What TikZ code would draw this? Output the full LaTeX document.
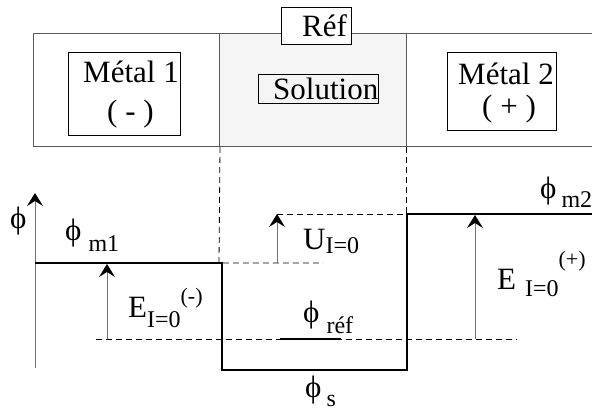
\documentclass[tikz,border=0pt]{standalone}
\usepackage{fontspec}
\setmainfont{Liberation Serif}
\usetikzlibrary{arrows.meta}

\newcommand{\mainsz}{\fontsize{31}{33}\selectfont}
\newcommand{\subsz}{\fontsize{24}{26}\selectfont}
\newcommand{\supsz}{\fontsize{22}{24}\selectfont}

\begin{document}
\begin{tikzpicture}[
            x=1pt, y=-1pt,
            outer_style/.style={rectangle, draw=black!65, line width=1pt, anchor=north west, inner sep=0pt, minimum height=113pt},
            inner_style/.style={rectangle, draw, line width=0.8pt, anchor=north west, inner sep=0pt},
            txt/.style={anchor=base west, inner sep=0pt, font=\mainsz},
            level/.style={line width=2.5pt},
            guide/.style={dash pattern=on 6pt off 4pt, line width=0.8pt},
            pot/.style={draw=black!55, line width=1pt, -{Stealth[length=13pt, width=16pt, inset=5pt, color=black]}}
        ]
        \useasboundingbox (0,0) rectangle (592,414);

        % Haut : les trois compartiments
        \node (metal1) [outer_style, minimum width=186pt] at (33,33) {};
        \node (solution) [outer_style, minimum width=187pt, fill=black!4] at (219,33) {};
        \node (metal2) [outer_style, minimum width=200pt] at (406,33) {};
        \node (ref) [inner_style, fill=white, minimum width=70pt, minimum height=37pt] at (281,7) {};

        \node (m1box) [inner_style, minimum width=112pt, minimum height=83pt] at (68,52) {};
        \node (solbox) [inner_style, minimum width=120pt, minimum height=29pt] at (258,74) {};
        \node (m2box) [inner_style, minimum width=109pt, minimum height=78pt] at (447,52) {};

        \node (m1name) [txt] at (83,83) {Métal 1};
        \node (m1sign) [txt] at (107,122) {( - )};
        \node (solname) [txt] at (273,100) {Solution};
        \node (refname) [txt] at (302,37) {Réf};
        \node (m2name) [txt] at (458,85) {Métal 2};
        \node (m2sign) [txt] at (482,117) {( + )};

        % Bas : niveaux de potentiel
        \coordinate (axisbot) at (35,368);
        \coordinate (axistop) at (35,193);
        \coordinate (m1left) at (35,263);
        \coordinate (m1right) at (222,263);
        \coordinate (sleft) at (222,370);
        \coordinate (sright) at (407,370);
        \coordinate (m2left) at (407,214);
        \coordinate (m2right) at (592,214);
        \coordinate (refleft) at (96,339);
        \coordinate (refright) at (517,339);
        \coordinate (refa) at (280,339);
        \coordinate (refb) at (341,339);

        \draw [pot] (axisbot) -- (axistop);
        \draw [level] (m1left) -- (m1right) -- (sleft) -- (sright) -- (m2left) -- (m2right);
        \draw [level] (refa) -- (refb);

        \draw [guide] (metal1.south east) -- (219,263) -- (323,263);
        \draw [guide] (metal2.south west) -- (406,214) -- (273,214);
        \draw [guide] (refleft) -- (refright);

        \draw [pot] (107,339) -- (107,264);
        \draw [pot] (277,263) -- (277,214);
        \draw [pot] (475,339) -- (475,215);

        % Etiquettes
        \node (phiaxis) [txt] at (10,229) {ϕ};
        \node (phim1) [txt] at (65,241) {ϕ\hspace{7pt}\raisebox{-11pt}{\subsz m1}};
        \node (eminus) [txt] at (128,317) {E\raisebox{-10pt}{\subsz I=0}\raisebox{14pt}{\supsz (-)}};
        \node (uzero) [txt] at (303,250) {U\raisebox{-4pt}{\subsz I=0}};
        \node (phiref) [txt] at (303,323) {ϕ\hspace{7pt}\raisebox{-11pt}{\subsz réf}};
        \node (phis) [txt] at (305,397) {ϕ\hspace{5pt}\raisebox{-9pt}{\subsz s}};
        \node (eplus) [txt] at (497,290) {E\hspace{9pt}\raisebox{-7pt}{\subsz I=0}\raisebox{24pt}{\supsz (+)}};
        \node (phim2) [txt] at (540,199) {ϕ\hspace{5pt}\raisebox{-9pt}{\subsz m2}};

    \end{tikzpicture}
\end{document}
